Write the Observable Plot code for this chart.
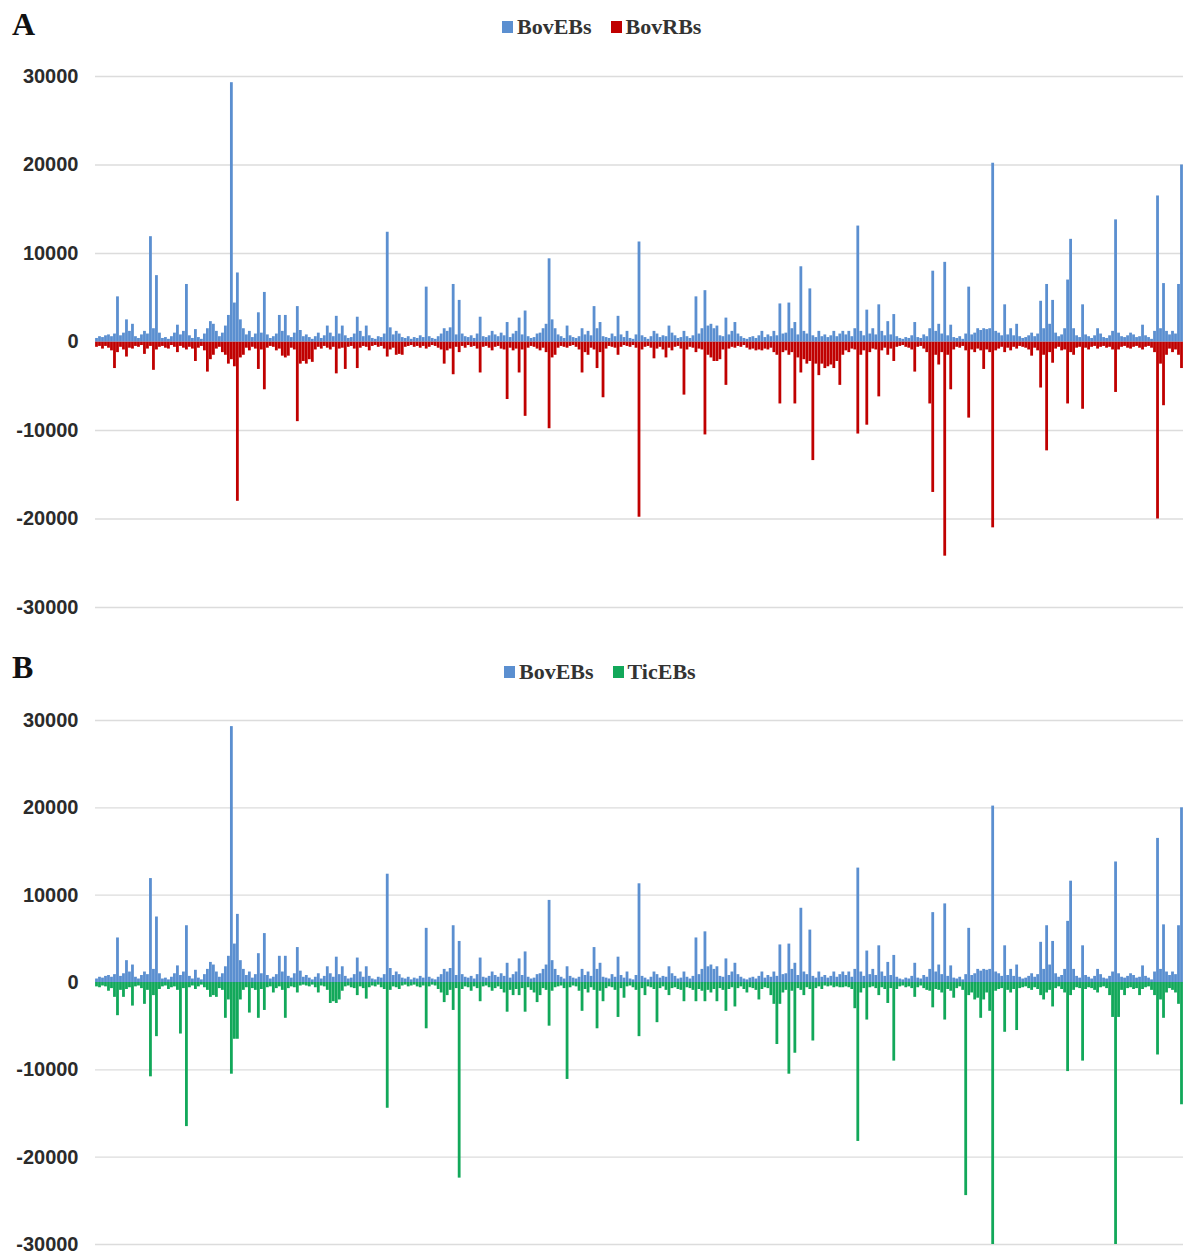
<!DOCTYPE html>
<html>
<head>
<meta charset="utf-8">
<script src="https://cdn.jsdelivr.net/npm/d3@7"></script>
<script src="https://cdn.jsdelivr.net/npm/@observablehq/plot@0.6"></script>
<style>
  body { margin: 0; background: #fff; }
  #page { position: relative; width: 1183px; height: 1256px; overflow: hidden; background: #fff; }
  .letter { position: absolute; font-family: "Liberation Serif", "DejaVu Serif", serif; font-weight: bold; font-size: 32px; line-height: 1; color: #111; }
  .legend { position: absolute; display: flex; align-items: center; gap: 19px; line-height: 1;
            font-family: "Liberation Serif", "DejaVu Serif", serif; font-weight: bold; font-size: 22px; color: #333; }
  .legend span.item { display: flex; align-items: center; gap: 4px; }
  .legend i { display: inline-block; width: 11px; height: 12px; }
  .panel { position: absolute; left: 0; }
</style>
</head>
<body>
<div id="page"></div>
<script>
// Expression per gene position (same gene order in both panels).
const bovEBs = [
  400, 600, 500, 700, 800, 600, 900, 5100, 700, 1000,
  2500, 1200, 2000, 600, 400, 800, 1200, 900, 11900, 1500,
  7500, 1000, 400, 500, 300, 600, 1000, 1900, 800, 1200,
  6500, 700, 400, 1400, 500, 300, 900, 1500, 2300, 2000,
  1200, 600, 1000, 1800, 3000, 29300, 4400, 7800, 2500, 1500,
  800, 1200, 500, 900, 3300, 1000, 5600, 800, 400, 600,
  900, 3000, 1200, 3000, 700, 500, 1000, 4000, 1300, 600,
  800, 500, 300, 600, 1000, 400, 700, 1800, 1000, 600,
  2900, 900, 1800, 700, 400, 500, 900, 2800, 1200, 600,
  1800, 700, 400, 300, 600, 500, 900, 12400, 1600, 800,
  1200, 900, 500, 400, 600, 300, 500, 400, 700, 500,
  6200, 600, 400, 300, 600, 900, 1500, 1200, 1600, 6500,
  800, 4700, 900, 600, 500, 700, 400, 900, 2800, 600,
  500, 700, 1200, 800, 600, 1000, 700, 2200, 500, 900,
  1200, 2700, 800, 3500, 600, 400, 500, 900, 1000, 1500,
  2000, 9400, 2500, 1500, 800, 600, 400, 1800, 700, 500,
  400, 600, 1500, 800, 1200, 700, 4000, 1500, 2200, 600,
  500, 400, 900, 600, 2900, 800, 500, 1200, 400, 300,
  800, 11300, 700, 500, 300, 600, 1200, 900, 500, 700,
  600, 1800, 1000, 700, 400, 500, 1200, 600, 400, 700,
  5100, 900, 1500, 5800, 1800, 2000, 1500, 1800, 700, 600,
  2700, 800, 1200, 2200, 900, 600, 400, 300, 500, 600,
  400, 700, 1200, 500, 800, 600, 1200, 700, 4300, 900,
  1000, 4400, 1500, 2200, 800, 8500, 1200, 900, 6000, 700,
  500, 1200, 600, 800, 500, 700, 1200, 600, 900, 1200,
  800, 1200, 600, 1500, 13100, 1200, 700, 3600, 900, 1500,
  800, 4200, 1200, 700, 2300, 800, 3100, 600, 400, 300,
  500, 400, 700, 2200, 500, 400, 800, 600, 1500, 8000,
  1200, 2000, 900, 9000, 700, 1900, 500, 400, 600, 300,
  900, 6200, 800, 1000, 1500, 1300, 1500, 1400, 1500, 20200,
  1200, 1000, 700, 4200, 800, 1500, 700, 2000, 600, 400,
  500, 700, 1000, 600, 900, 4600, 1500, 6500, 2000, 4700,
  1000, 600, 800, 1500, 7000, 11600, 1500, 700, 500, 4200,
  800, 600, 400, 700, 1500, 900, 500, 400, 700, 1200,
  13800, 1000, 600, 500, 700, 1000, 800, 500, 600, 1900,
  700, 500, 300, 1200, 16500, 1500, 6600, 1200, 800, 1200,
  900, 6500, 20000
];

const bovRBs = [
  -600, -500, -800, -500, -700, -1000, -3000, -1200, -600, -900,
  -1700, -700, -800, -500, -600, -400, -1400, -800, -500, -3200,
  -900, -600, -500, -700, -800, -400, -600, -1200, -500, -700,
  -900, -600, -800, -2200, -700, -500, -1000, -3400, -2000, -1500,
  -800, -600, -1200, -1500, -2500, -2000, -2800, -18000, -1800, -1500,
  -700, -1000, -600, -800, -3100, -900, -5400, -700, -500, -600,
  -1000, -800, -1600, -1800, -1600, -700, -900, -9000, -2500, -2200,
  -2500, -2000, -2300, -900, -600, -800, -500, -700, -900, -600,
  -3600, -800, -700, -3100, -600, -500, -800, -3000, -700, -500,
  -600, -1000, -500, -400, -600, -500, -800, -1700, -900, -700,
  -1500, -1400, -1500, -600, -500, -400, -600, -500, -700, -500,
  -800, -600, -400, -500, -700, -900, -2500, -1000, -800, -3700,
  -600, -1200, -500, -700, -400, -600, -500, -800, -3500, -600,
  -500, -700, -1000, -600, -500, -800, -900, -6500, -700, -1000,
  -800, -3500, -900, -8400, -700, -500, -600, -800, -1000, -700,
  -1200, -9800, -1800, -1500, -700, -500, -600, -700, -500, -400,
  -600, -900, -3500, -1200, -1500, -700, -900, -3000, -1200, -6300,
  -800, -500, -600, -700, -1500, -600, -400, -500, -600, -400,
  -700, -19800, -900, -600, -500, -700, -1900, -800, -600, -900,
  -1800, -700, -1000, -600, -500, -800, -6000, -900, -600, -700,
  -1200, -800, -900, -10500, -1500, -1800, -2200, -2200, -2000, -900,
  -4900, -800, -600, -700, -500, -600, -400, -700, -900, -800,
  -1000, -900, -1000, -800, -900, -700, -1200, -1500, -7000, -1200,
  -1000, -1500, -1200, -7000, -1800, -3500, -2000, -2500, -2200, -13400,
  -2500, -3800, -2500, -3000, -2800, -2600, -3000, -2200, -4900, -1500,
  -1000, -1200, -800, -900, -10400, -1500, -1000, -9400, -1200, -800,
  -900, -6200, -1000, -700, -1500, -800, -2200, -600, -500, -400,
  -600, -700, -900, -3400, -600, -500, -800, -1200, -7000, -17000,
  -1500, -2600, -1200, -24200, -1500, -5400, -900, -600, -700, -500,
  -1000, -8600, -900, -1200, -800, -1000, -3100, -900, -1200, -21000,
  -1000, -800, -600, -1200, -700, -1000, -600, -800, -500, -600,
  -700, -900, -1600, -700, -1000, -5200, -1500, -12300, -1200, -2400,
  -800, -600, -1000, -900, -7000, -1200, -1500, -700, -600, -7600,
  -700, -900, -600, -500, -800, -600, -500, -700, -600, -900,
  -5700, -900, -600, -500, -700, -800, -600, -500, -700, -900,
  -600, -500, -700, -1200, -20000, -2500, -7200, -1500, -800, -1200,
  -900, -1500, -3000
];

const ticEBs = [
  -500, -600, -400, -500, -1000, -700, -1700, -3800, -900, -1700,
  -800, -600, -2700, -500, -400, -700, -2500, -900, -10800, -1500,
  -6200, -800, -500, -400, -800, -600, -500, -900, -5900, -700,
  -16500, -600, -400, -800, -500, -300, -600, -900, -1700, -1500,
  -1700, -700, -900, -4100, -2000, -10500, -6500, -6500, -2000, -900,
  -600, -3500, -700, -900, -4100, -800, -3200, -600, -500, -1200,
  -700, -500, -900, -4100, -700, -500, -600, -1200, -400, -300,
  -400, -500, -300, -600, -1200, -400, -500, -900, -2400, -2200,
  -2400, -2000, -1000, -500, -400, -600, -700, -1500, -500, -700,
  -1900, -600, -400, -500, -300, -600, -800, -14400, -900, -500,
  -600, -800, -400, -300, -500, -400, -300, -500, -600, -400,
  -5300, -500, -300, -400, -800, -1200, -2300, -1500, -900, -3200,
  -700, -22400, -800, -500, -600, -1000, -500, -700, -2200, -500,
  -400, -600, -1000, -700, -500, -800, -1200, -3400, -900, -1500,
  -800, -1500, -700, -3400, -600, -900, -1200, -2300, -1500, -700,
  -900, -5000, -1000, -600, -500, -400, -700, -11100, -600, -400,
  -500, -1000, -3300, -800, -1200, -600, -900, -5300, -1000, -2200,
  -700, -500, -600, -900, -4000, -700, -1800, -500, -400, -600,
  -900, -6200, -700, -1500, -500, -600, -800, -4600, -700, -500,
  -900, -1500, -700, -600, -800, -900, -2200, -600, -700, -900,
  -2200, -800, -1000, -2200, -900, -1200, -800, -2200, -700, -900,
  -3300, -800, -600, -2800, -700, -500, -800, -1200, -600, -700,
  -900, -2000, -800, -600, -700, -1500, -2500, -7100, -2500, -1200,
  -900, -10500, -1000, -8100, -700, -900, -1500, -600, -800, -6700,
  -700, -500, -800, -400, -500, -400, -600, -500, -600, -600,
  -500, -600, -800, -3000, -18200, -1200, -700, -4300, -600, -500,
  -700, -1500, -600, -800, -2400, -700, -9000, -800, -500, -400,
  -600, -500, -700, -1700, -600, -400, -700, -900, -1000, -2900,
  -800, -900, -1200, -4300, -800, -1000, -1800, -700, -500, -900,
  -24400, -1500, -1200, -2000, -1800, -4100, -2000, -1200, -3300, -30000,
  -1000, -800, -700, -5700, -900, -1200, -800, -5500, -700, -600,
  -500, -700, -900, -600, -800, -1500, -2000, -1200, -900, -2800,
  -700, -500, -800, -1200, -10200, -1500, -900, -600, -700, -9000,
  -800, -600, -700, -900, -1200, -600, -500, -700, -1500, -4000,
  -30000, -4000, -900, -1500, -700, -600, -800, -700, -1500, -800,
  -600, -500, -900, -1500, -8300, -2000, -4100, -1200, -700, -900,
  -1200, -2500, -14000
];

const yTicks = [-30000, -20000, -10000, 0, 10000, 20000, 30000];

const colors = { BovEBs: "#5b8fd0", BovRBs: "#c00000", TicEBs: "#12a85a" };

const page = document.getElementById("page");

function drawPanel({ top, plotHeight, letter, letterTop, legendTop, legendLeft, upper, lower }) {
  const marginTop = 16, marginBottom = 12;
  const n = upper.values.length;
  const up = upper.values.map((v, i) => ({ i, v }));
  const down = lower.values.map((v, i) => ({ i, v }));

  const chart = Plot.plot({
    width: 1183,
    height: marginTop + plotHeight + marginBottom,
    marginLeft: 95,
    marginRight: 0,
    marginTop,
    marginBottom,
    style: { background: "transparent", overflow: "visible" },
    x: { domain: [0, n], axis: null },
    y: { domain: [-30000, 30000], axis: null },
    marks: [
      Plot.gridY(yTicks, { stroke: "#dcdcdc", strokeOpacity: 1, strokeWidth: 1.3 }),
      Plot.rectY(down, { x1: "i", x2: d => d.i + 1, y1: 0, y2: "v", fill: colors[lower.name], insetLeft: 0.1, insetRight: 0.1 }),
      Plot.rectY(up, { x1: "i", x2: d => d.i + 1, y1: 0, y2: "v", fill: colors[upper.name], insetLeft: 0.1, insetRight: 0.1 }),
      Plot.axisY(yTicks, {
        tickSize: 0,
        tickPadding: 17,
        tickFormat: d => String(d),
        fontSize: 20,
        fontWeight: "bold",
        fontFamily: "'Liberation Sans', Arial, sans-serif",
        fill: "#2b2b2b",
        label: null
      })
    ]
  });
  chart.classList.add("panel");
  chart.style.top = (top - marginTop) + "px";
  page.appendChild(chart);

  const l = document.createElement("div");
  l.className = "letter";
  l.textContent = letter;
  l.style.left = "12px";
  l.style.top = letterTop + "px";
  page.appendChild(l);

  const lg = document.createElement("div");
  lg.className = "legend";
  lg.style.left = legendLeft + "px";
  lg.style.top = legendTop + "px";
  for (const s of [upper.name, lower.name]) {
    const item = document.createElement("span");
    item.className = "item";
    const sw = document.createElement("i");
    sw.style.background = colors[s];
    item.appendChild(sw);
    item.appendChild(document.createTextNode(s));
    lg.appendChild(item);
  }
  page.appendChild(lg);
}

drawPanel({
  top: 76, plotHeight: 531, letter: "A", letterTop: 8, legendTop: 16, legendLeft: 502,
  upper: { name: "BovEBs", values: bovEBs },
  lower: { name: "BovRBs", values: bovRBs }
});

drawPanel({
  top: 720, plotHeight: 524, letter: "B", letterTop: 651, legendTop: 661, legendLeft: 504,
  upper: { name: "BovEBs", values: bovEBs },
  lower: { name: "TicEBs", values: ticEBs }
});
</script>
</body>
</html>
